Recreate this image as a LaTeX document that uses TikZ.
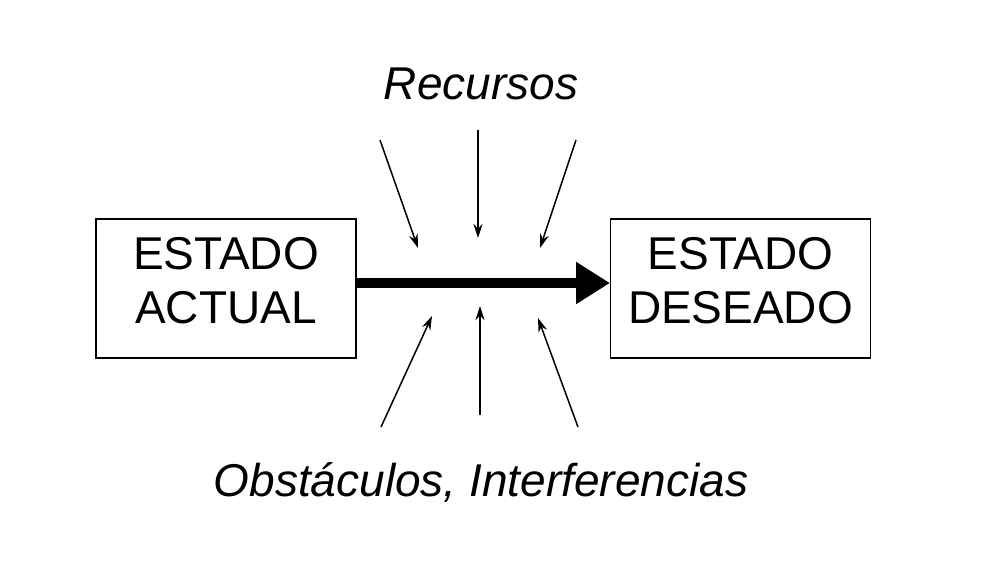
\documentclass[tikz,border=0pt]{standalone}
\usepackage{fontspec}
\setmainfont{Liberation Sans}
\usetikzlibrary{arrows.meta}
\begin{document}
\begin{tikzpicture}[x=1pt,y=-1pt,
  box/.style={draw,line width=1.3pt,minimum width=260pt,minimum height=139pt,align=center,font=\fontsize{46}{54}\selectfont,inner sep=0pt},
  lbl/.style={font=\fontsize{46}{54}\selectfont\itshape},
  thin/.style={line width=1.5pt,-{Stealth[length=14pt,width=9pt]}}]
\useasboundingbox (0,0) rectangle (989,566);
\node[box] (a) at (226,288.5) {};
\node[box] (b) at (740.5,288.5) {};
\node[align=center,font=\fontsize{46}{54}\selectfont] (at) at (226,281) {ESTADO\\ACTUAL};
\node[align=center,font=\fontsize{46}{54}\selectfont] (bt) at (740.5,281) {ESTADO\\DESEADO};
\coordinate (ae) at (356,283); \coordinate (bw) at (610,283);
\draw[line width=10pt,-{Triangle[length=34pt,width=40pt]}] (ae) -- (bw);
\node[lbl] (r) at (481,84) {Recursos};
\node[lbl] (o) at (481,482) {Obstáculos, Interferencias};
\coordinate (t1s) at (380,140); \coordinate (t1e) at (418,248);
\coordinate (t2s) at (478,130); \coordinate (t2e) at (478,238);
\coordinate (t3s) at (576,140); \coordinate (t3e) at (540,248);
\coordinate (b1s) at (381,427); \coordinate (b1e) at (432,316);
\coordinate (b2s) at (480,415); \coordinate (b2e) at (480,306);
\coordinate (b3s) at (578,427); \coordinate (b3e) at (538,318);
\foreach \p in {t1,t2,t3,b1,b2,b3} \draw[thin] (\p s) -- (\p e);
\end{tikzpicture}
\end{document}
